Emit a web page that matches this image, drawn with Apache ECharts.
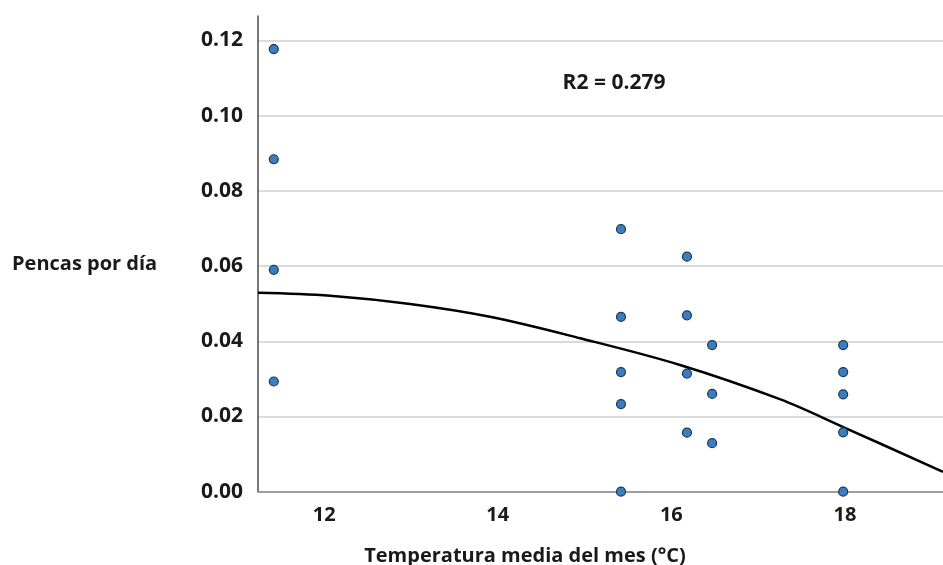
<!DOCTYPE html>
<html>
<head>
<meta charset="utf-8">
<script src="https://cdn.jsdelivr.net/npm/echarts@6/dist/echarts.min.js"></script>
<style>
html,body{margin:0;padding:0;background:#fff;}
#chart{width:943px;height:565px;}
</style>
</head>
<body>
<div id="chart"></div>
<script>
// Observed points: temperature (°C) and leaves per day
const temps = [11.42, 11.42, 11.42, 11.42,
               15.42, 15.42, 15.42, 15.42, 15.42,
               16.18, 16.18, 16.18, 16.18,
               16.47, 16.47, 16.47,
               17.98, 17.98, 17.98, 17.98, 17.98];
const pencas = [0.1177, 0.0884, 0.0590, 0.0293,
                0.0698, 0.0465, 0.0318, 0.0233, 0.0000,
                0.0625, 0.0469, 0.0314, 0.0157,
                0.0390, 0.0260, 0.0129,
                0.0390, 0.0318, 0.0259, 0.0158, 0.0000];
// Fitted curve
const fitX = [11.238, 12.07, 12.99, 13.91, 14.95, 16.10, 17.25, 17.98, 19.13];
const fitY = [0.0529, 0.0521, 0.0499, 0.0465, 0.0408, 0.0337, 0.0246, 0.0172, 0.0053];
// Tick labels
const xTicks = [12, 14, 16, 18];
const yTickStep = 0.02;
const xName = 'Temperatura media del mes (°C)';
const yName = 'Pencas por día';
const r2Text = 'R2 = 0.279';

const FONT = '"Open Sans", sans-serif';
const chart = echarts.init(document.getElementById('chart'), null, {renderer: 'canvas'});
chart.setOption({
  backgroundColor: '#ffffff',
  animation: false,
  grid: {left: 258, right: 0, top: 16, bottom: 73.3, containLabel: false},
  xAxis: {
    type: 'value',
    min: 11.238,
    max: 19.13,
    axisLine: {show: true, lineStyle: {color: '#8a8a8a', width: 1.5}},
    axisTick: {show: false},
    splitLine: {show: false},
    axisLabel: {
      customValues: xTicks,
      margin: 14,
      fontFamily: FONT, fontWeight: 'bold', fontSize: 20, color: '#1a1a1a'
    }
  },
  yAxis: {
    type: 'value',
    min: 0,
    max: 0.1265,
    interval: yTickStep,
    axisLine: {show: true, onZero: false, lineStyle: {color: '#4a4a4a', width: 1.5}},
    axisTick: {show: false},
    splitLine: {show: true, showMaxLine: false, lineStyle: {color: '#cfcfcf', width: 1.5}},
    axisLabel: {
      showMaxLabel: false,
      margin: 15,
      formatter: v => v.toFixed(2),
      fontFamily: FONT, fontWeight: 'bold', fontSize: 21, color: '#1a1a1a'
    }
  },
  graphic: [
    {type: 'text', left: 12, top: 254, style: {text: yName, font: 'bold 20px ' + FONT, fill: '#1a1a1a'}},
    {type: 'text', x: 525, y: 556, style: {text: xName, font: 'bold 20px ' + FONT, fill: '#1a1a1a', align: 'center', verticalAlign: 'middle'}},
    {type: 'text', x: 614, y: 83, style: {text: r2Text, font: 'bold 21px ' + FONT, fill: '#1a1a1a', align: 'center', verticalAlign: 'middle'}}
  ],
  series: [
    {
      type: 'line',
      data: fitX.map((x, i) => [x, fitY[i]]),
      smooth: 0.35,
      showSymbol: false,
      lineStyle: {color: '#000000', width: 2.5},
      z: 2
    },
    {
      type: 'scatter',
      data: temps.map((t, i) => [t, pencas[i]]),
      symbolSize: 9,
      itemStyle: {color: '#3b7dbd', borderColor: '#1c3a58', borderWidth: 1.2, opacity: 1},
      z: 3
    }
  ]
});
</script>
</body>
</html>
